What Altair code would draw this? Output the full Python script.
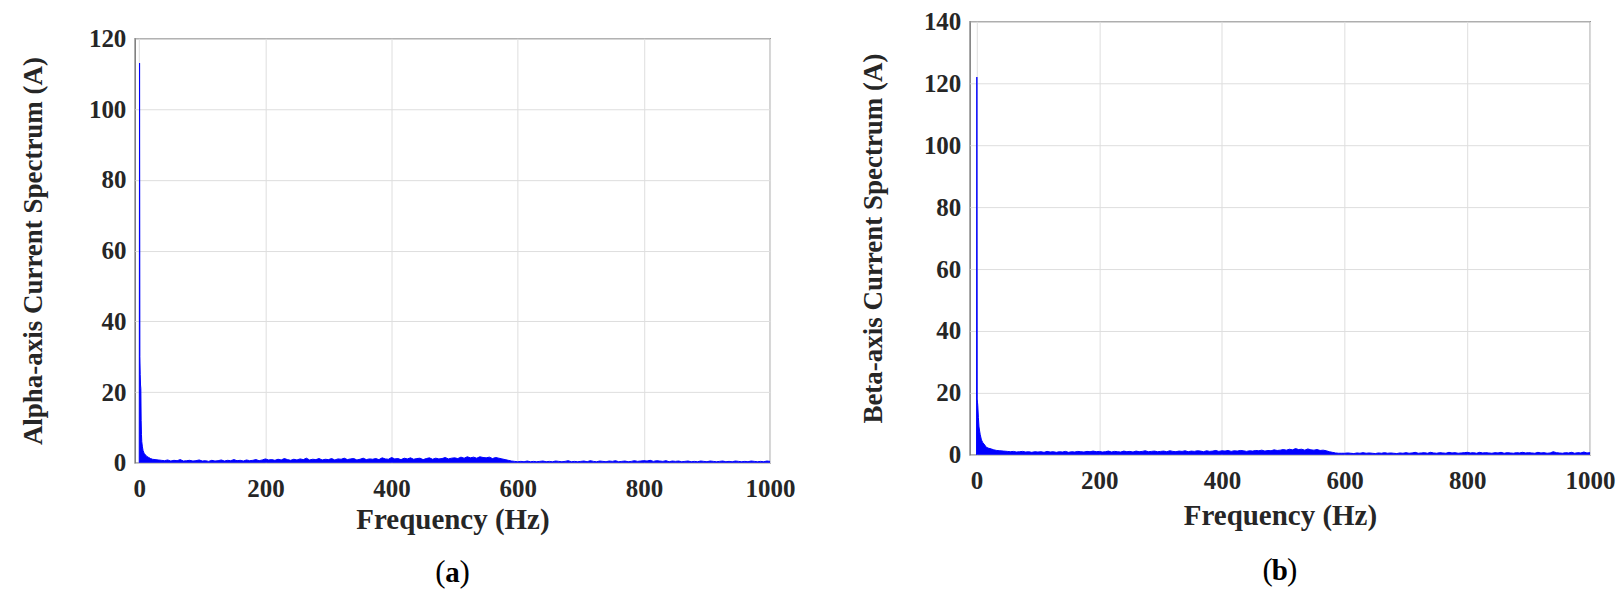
import altair as alt
import pandas as pd

# ---------------- data ----------------
# Panel (a): low-frequency part (Hz, A)
a_low_f = [0, 0.5, 1.0, 1.5, 2.0, 2.5, 3.0, 3.5, 4.0, 5.0, 6.0, 7.0, 8.0, 10.0, 12.0, 15.0, 18.0, 21.0, 25.0]
a_low_v = [0, 113, 30, 25, 22, 21, 12, 8, 6, 4.5, 3.5, 3.0, 2.6, 2.2, 1.8, 1.5, 1.2, 1.0, 0.9]
# Panel (a): noise floor, 30 Hz .. 1000 Hz every 5 Hz
a_floor_start = 30
a_floor_v = [
    0.8, 0.7, 0.6, 0.8, 0.5, 0.7, 0.6, 0.9, 0.5, 0.6, 0.7, 0.5, 0.6, 0.8,
    0.5, 0.6, 0.4, 0.7, 0.5, 0.6, 0.8, 0.5, 0.7, 0.6, 0.9, 0.6, 0.7, 0.5, 0.8, 0.6, 0.7, 0.9, 0.6, 0.8,
    1.1, 0.8, 0.9, 0.7, 1.0, 0.8, 1.2, 0.9, 0.7, 1.0, 0.8, 1.1, 0.9, 1.3, 0.8, 1.0, 0.9, 1.2, 0.8, 1.0,
    0.9, 1.2, 0.8, 1.1, 1.0, 1.3, 0.9, 1.1, 1.2, 0.8, 1.0, 1.3, 0.9, 1.1, 1.0, 1.2, 0.9, 1.4, 1.1, 1.0,
    1.5, 1.1, 1.2, 0.9, 1.3, 1.1, 1.4, 1.0, 1.2, 1.3, 0.9, 1.2, 1.4, 1.0, 1.3, 1.1, 1.2, 1.5, 1.1, 1.3,
    1.4, 1.2, 1.6, 1.3, 1.7, 1.4, 1.6, 1.3, 1.7, 1.5, 1.4, 1.6, 1.2, 1.5, 1.3, 1.1, 0.9, 0.7, 0.5, 0.4,
    0.3, 0.4, 0.3, 0.5, 0.3, 0.4, 0.3, 0.4, 0.5, 0.3, 0.4, 0.3, 0.5, 0.4, 0.3, 0.4, 0.6, 0.3, 0.4, 0.3,
    0.4, 0.5, 0.3, 0.6, 0.4, 0.3, 0.5, 0.4, 0.3, 0.5, 0.4, 0.6, 0.3, 0.4, 0.5, 0.3, 0.4, 0.6, 0.4, 0.5,
    0.6, 0.5, 0.7, 0.4, 0.6, 0.5, 0.4, 0.6, 0.3, 0.5, 0.4, 0.5, 0.3, 0.4, 0.5, 0.3, 0.4, 0.3, 0.5, 0.4,
    0.3, 0.5, 0.4, 0.3, 0.4, 0.5, 0.3, 0.4, 0.3, 0.5, 0.4, 0.3, 0.4, 0.3, 0.5, 0.4, 0.3, 0.4, 0.3, 0.5, 0.4,
]

# Panel (b): low-frequency part
b_low_f = [0, 0.5, 1.0, 1.5, 2.0, 3.0, 4.0, 5.0, 6.0, 8.0, 10.0, 12.0, 14.0, 16.0, 20.0, 24.0, 28.0, 33.0, 38.0, 44.0, 50.0]
b_low_v = [0, 122, 18, 17, 16, 12, 9, 7.7, 6.5, 4.8, 4.0, 3.5, 3.0, 2.4, 2.1, 1.9, 1.6, 1.4, 1.3, 1.2, 1.1]
# Panel (b): noise floor, 55 Hz .. 1000 Hz every 5 Hz
b_floor_start = 55
b_floor_v = [
    1.0, 1.1, 0.9, 1.0, 1.1, 0.9, 1.0, 0.8, 1.0,
    0.9, 1.0, 0.8, 1.1, 0.9, 1.0, 0.8, 1.0, 0.9, 1.1, 0.8, 1.0, 0.9, 1.1, 1.0, 0.9, 1.1, 1.0, 1.2, 1.0,
    1.1, 0.9, 1.0, 1.2, 0.9, 1.1, 1.0, 0.9, 1.2, 1.0, 1.1, 0.9, 1.2, 1.0, 1.1, 1.3, 1.0, 1.1, 1.2, 1.0,
    1.1, 1.2, 1.0, 1.3, 1.1, 1.0, 1.2, 1.1, 1.3, 1.0, 1.2, 1.1, 1.3, 1.2, 1.0, 1.3, 1.1, 1.2, 1.4, 1.1,
    1.3, 1.2, 1.4, 1.1, 1.3, 1.2, 1.4, 1.3, 1.1, 1.3, 1.2, 1.4, 1.3, 1.5, 1.2, 1.4, 1.3, 1.6, 1.4, 1.5,
    1.7, 1.5, 1.8, 1.6, 2.0, 1.7, 1.8, 1.5, 1.9, 1.6, 1.5, 1.7, 1.4, 1.5, 1.3, 1.0, 0.8, 0.6, 0.5, 0.5,
    0.5, 0.6, 0.5, 0.4, 0.6, 0.5, 0.7, 0.5, 0.6, 0.5, 0.4, 0.6, 0.5, 0.7, 0.5, 0.6, 0.5, 0.4, 0.6, 0.5,
    0.7, 0.5, 0.6, 0.8, 0.5, 0.6, 0.7, 0.5, 0.8, 0.6, 0.5, 0.7, 0.6, 0.5, 0.8, 0.6, 0.7, 0.5, 0.6, 0.7,
    0.8, 0.6, 0.7, 0.5, 0.8, 0.6, 0.7, 0.6, 0.5, 0.7, 0.6, 0.8, 0.5, 0.7, 0.6, 0.5, 0.7, 0.6, 0.8, 0.6,
    0.7, 0.6, 0.5, 0.8, 0.6, 0.7, 0.5, 0.6, 1.0, 0.7, 0.6, 0.5, 0.7, 0.6, 0.8, 0.5, 0.7, 0.6, 0.9, 0.6, 0.7,
]

x_ticks = [0, 200, 400, 600, 800, 1000]
a_y_ticks = [0, 20, 40, 60, 80, 100, 120]
b_y_ticks = [0, 20, 40, 60, 80, 100, 120, 140]

FONT = "Liberation Serif"
TXT = "#262626"
BLUE = "#0000ff"


def make_df(low_f, low_v, start, floor_v):
    f = list(low_f) + [start + 5 * i for i in range(len(floor_v))]
    v = list(low_v) + list(floor_v)
    return pd.DataFrame({"f": f, "v": v})


def panel(df, xdom, ymax, yticks, w, h, ytitle, ytitle_x, xtitle_y, letter, cap_dy):
    xenc = alt.X(
        "f:Q",
        scale=alt.Scale(domain=xdom, nice=False, zero=False),
        axis=alt.Axis(
            values=x_ticks, format="d", title="Frequency (Hz)", titleY=xtitle_y, titleBaseline="middle",
            titleFontSize=29, labelPadding=14, labelFlush=False,
        ),
    )
    yenc = alt.Y(
        "v:Q",
        scale=alt.Scale(domain=[0, ymax], nice=False),
        axis=alt.Axis(
            values=yticks, format="d", title=ytitle, titleAngle=270, titleX=ytitle_x, titleY=h / 2,
            titleBaseline="middle", titleAlign="center", titleFontSize=27, labelPadding=9,
        ),
    )
    base = alt.Chart(df)
    area = base.mark_area(color=BLUE, opacity=1).encode(x=xenc, y=yenc)
    line = base.mark_line(color=BLUE, strokeWidth=1).encode(x="f:Q", y="v:Q")
    cap_df = pd.DataFrame({"k": [0]})
    cx = w / 2
    cy = h + cap_dy
    lp = alt.Chart(cap_df).mark_text(text="(", font=FONT, fontSize=31, color="#000000",
                                      align="right", baseline="middle").encode(
        x=alt.value(cx - 7), y=alt.value(cy))
    lt = alt.Chart(cap_df).mark_text(text=letter, font=FONT, fontSize=29, fontWeight="bold",
                                      color="#000000", align="center", baseline="middle").encode(
        x=alt.value(cx), y=alt.value(cy))
    rp = alt.Chart(cap_df).mark_text(text=")", font=FONT, fontSize=31, color="#000000",
                                      align="left", baseline="middle").encode(
        x=alt.value(cx + 7), y=alt.value(cy))
    return alt.layer(area, line, lp, lt, rp).properties(width=w, height=h)


df_a = make_df(a_low_f, a_low_v, a_floor_start, a_floor_v)
df_b = make_df(b_low_f, b_low_v, b_floor_start, b_floor_v)

left = panel(df_a, [-7, 1000], 120, a_y_ticks, 636, 425,
             "Alpha-axis Current Spectrum (A)", -101, 57, "a", 110)
right = panel(df_b, [-11, 1000], 140, b_y_ticks, 621, 434,
              "Beta-axis Current Spectrum (A)", -96, 61, "b", 116)

# invisible spacer that pushes panel (a) a little lower than panel (b)
spacer = alt.Chart(pd.DataFrame({"k": [0]})).mark_point(opacity=0).encode(
    x=alt.value(0), y=alt.value(0)
).properties(width=10, height=1, view=alt.ViewBackground(stroke="transparent"))

left_col = alt.vconcat(spacer, left, spacing=0)

chart = alt.hconcat(left_col, right, spacing=63).properties(
    padding={"left": 11, "top": 0, "right": 0, "bottom": 0},
    background="white",
).configure_view(
    stroke="#555555", strokeWidth=1.2
).configure_axis(
    labelFont=FONT, labelFontSize=25, labelFontWeight="bold", labelColor=TXT,
    titleFont=FONT, titleFontWeight="bold", titleColor=TXT,
    grid=True, gridColor="#dedede", gridWidth=1,
    domain=False, ticks=False,
)

chart.save("out.html", embed_options={"renderer": "svg", "actions": False})
